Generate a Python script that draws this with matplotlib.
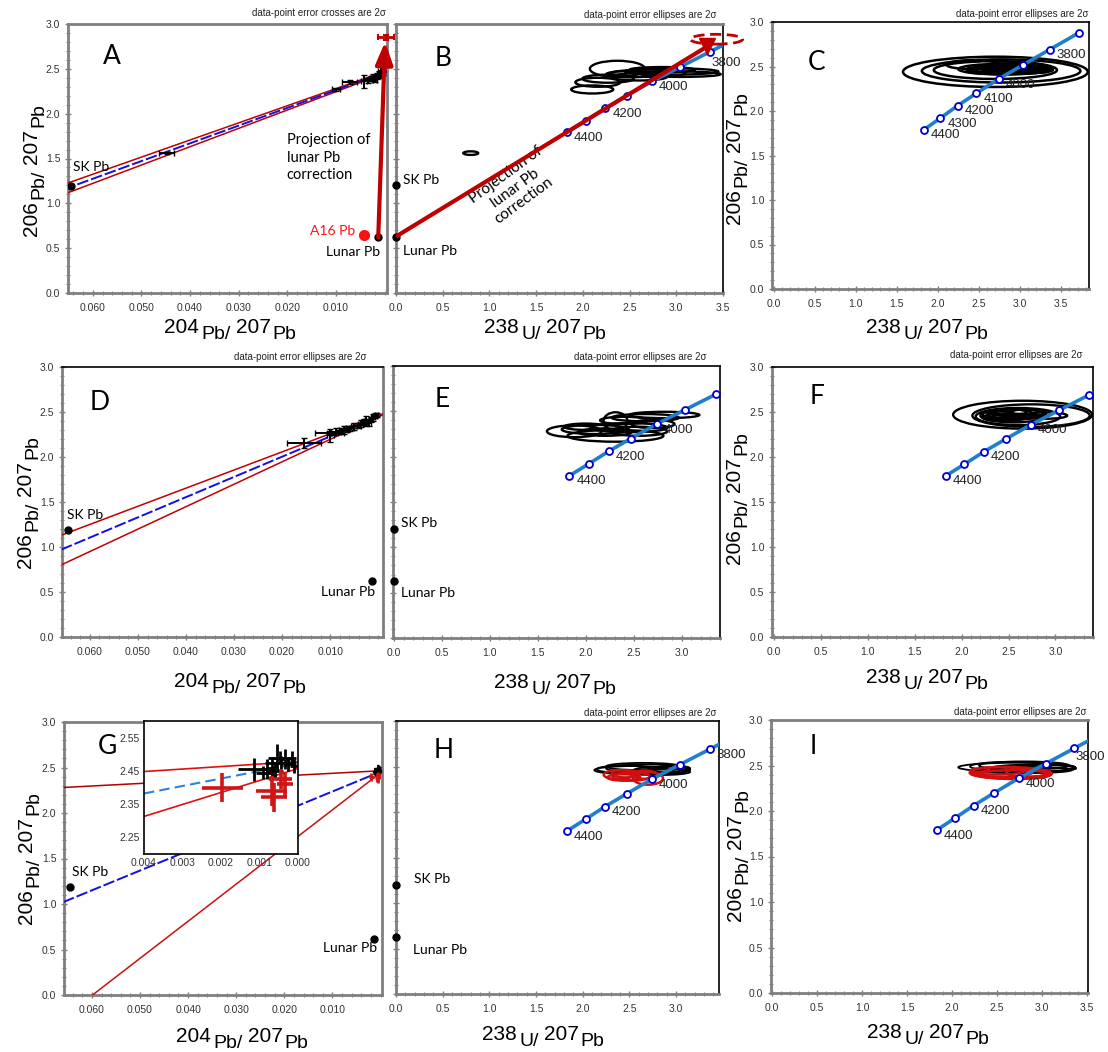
import numpy as np
import matplotlib
matplotlib.use("Agg")
import matplotlib.pyplot as plt
from matplotlib.patches import Ellipse
from matplotlib.ticker import MultipleLocator, FormatStrFormatter

W, H = 1108, 1052
plt.rcParams['font.family'] = ['Liberation Sans', 'DejaVu Sans']
NARROW = ['Liberation Sans', 'DejaVu Sans']
CAL = ['Lato', 'DejaVu Sans']
GRAY = '#7f7f7f'
RED = '#c00000'
BLUE = '#1010e0'

# ---------------- data ----------------
# concordia (Ma) in 238U/207Pb - 206Pb/207Pb space
conc_age = [4400, 4300, 4200, 4100, 4000, 3900, 3800, 3700]
conc_x = [1.83, 2.03, 2.24, 2.47, 2.74, 3.04, 3.36, 3.72]
conc_y = [1.79, 1.92, 2.06, 2.20, 2.36, 2.52, 2.69, 2.88]

# common Pb compositions
sk_204, sk_206 = 0.0645, 1.19
lunar_204, lunar_206 = 0.0013, 0.62
a16_204, a16_206 = 0.0042, 0.65

# panel A: error crosses (204Pb/207Pb, 206Pb/207Pb)
a_x = [0.0448, 0.0100, 0.0072, 0.0042, 0.0034, 0.0028, 0.0023, 0.0019, 0.0015, 0.0011, 0.0008, 0.0005, 0.0003]
a_y = [1.56, 2.27, 2.35, 2.36, 2.37, 2.39, 2.40, 2.38, 2.42, 2.44, 2.48, 2.45, 2.47]
a_xerr = [0.0016, 0.0008, 0.0015, 0.0006, 0.0008, 0.0005, 0.0006, 0.0004, 0.0005, 0.0004, 0.0005, 0.0003, 0.0003]
a_yerr = [0.015, 0.02, 0.02, 0.07, 0.03, 0.03, 0.04, 0.03, 0.03, 0.04, 0.07, 0.03, 0.04]
a_proj = (-0.0003, 2.85, 0.0017, 0.03)
reg_a_x = [0.066, -0.0005]
reg_a_hi = [1.21, 2.48]
reg_a_mid = [1.155, 2.47]
reg_a_lo = [1.10, 2.46]

# panel D
d_x = [0.0154, 0.0102, 0.0100, 0.0088, 0.0080, 0.0072, 0.0065, 0.0058, 0.0050, 0.0043, 0.0036, 0.0030,
       0.0025, 0.0020, 0.0015, 0.0010, 0.0006, 0.0003]
d_y = [2.16, 2.27, 2.24, 2.28, 2.29, 2.30, 2.31, 2.32, 2.34, 2.35, 2.37, 2.39, 2.40, 2.38, 2.42, 2.44, 2.46, 2.47]
d_xerr = [0.0036, 0.0030, 0.0007, 0.0010, 0.0008, 0.0009, 0.0007, 0.0008, 0.0006, 0.0007, 0.0005, 0.0006,
          0.0004, 0.0005, 0.0004, 0.0004, 0.0003, 0.0003]
d_yerr = [0.055, 0.02, 0.07, 0.04, 0.03, 0.04, 0.03, 0.03, 0.04, 0.03, 0.04, 0.03, 0.06, 0.03, 0.03, 0.04, 0.03, 0.02]
reg_d_x = [0.066, -0.001]
reg_d_hi = [1.13, 2.48]
reg_d_mid = [0.97, 2.475]
reg_d_lo = [0.80, 2.47]

# panel G (main + inset)
g_bx = [0.00115, 0.00055, 0.00034, 0.00016, 0.00068, 0.00080, 0.00045, 0.00047, 0.00060, 0.00025, 0.00090, 0.00010]
g_by = [2.455, 2.49, 2.485, 2.49, 2.46, 2.455, 2.475, 2.49, 2.45, 2.47, 2.445, 2.465]
g_bxerr = [0.0004, 0.00015, 0.00012, 0.0001, 0.00015, 0.00015, 0.0004, 0.0003, 0.0002, 0.00015, 0.0002, 0.0001]
g_byerr = [0.035, 0.04, 0.03, 0.02, 0.03, 0.03, 0.02, 0.02, 0.025, 0.02, 0.02, 0.02]
g_rx = [0.00197, 0.00045, 0.00068, 0.00062, 0.00034]
g_ry = [2.40, 2.425, 2.39, 2.37, 2.41]
g_rxerr = [0.00053, 0.0003, 0.0004, 0.00034, 0.0002]
g_ryerr = [0.045, 0.03, 0.045, 0.045, 0.035]
reg_g_x = [0.066, -0.0003]
reg_g_hi = [2.28, 2.465]
reg_g_mid = [1.02, 2.46]
reg_g_lo = [-0.25, 2.455]
ins_x = [0.004, 0.0]
ins_hi = [2.448, 2.478]
ins_mid = [2.382, 2.472]
ins_lo = [2.313, 2.457]

# error ellipses (x, y, 2sigma width, 2sigma height)
ell_b = [(2.37, 2.50, 0.59, 0.18), (2.10, 2.27, 0.45, 0.09), (2.16, 2.35, 0.48, 0.10), (2.27, 2.39, 0.55, 0.09),
         (2.95, 2.47, 1.00, 0.07), (3.05, 2.44, 0.85, 0.06), (2.70, 2.45, 0.80, 0.08), (2.60, 2.41, 0.60, 0.08),
         (2.85, 2.49, 0.70, 0.06), (2.50, 2.44, 0.50, 0.07), (0.80, 1.56, 0.16, 0.04)]
b_proj = (3.43, 2.83, 0.56, 0.11)
ell_c = [(2.70, 2.44, 2.25, 0.34), (2.77, 2.45, 1.93, 0.26), (2.70, 2.46, 1.50, 0.20), (2.43, 2.52, 0.65, 0.10),
         (2.80, 2.47, 1.10, 0.12), (2.90, 2.46, 1.00, 0.08), (2.95, 2.48, 0.90, 0.06), (2.75, 2.45, 0.80, 0.07),
         (3.00, 2.46, 0.75, 0.05), (2.85, 2.49, 0.70, 0.09), (2.65, 2.47, 0.60, 0.06), (3.05, 2.47, 0.65, 0.04),
         (2.90, 2.44, 0.55, 0.05), (3.10, 2.45, 0.50, 0.05)]
ell_e = [(1.88, 2.28, 0.57, 0.13), (2.31, 2.23, 1.00, 0.13), (2.31, 2.39, 0.25, 0.20), (2.82, 2.46, 0.73, 0.07),
         (2.62, 2.43, 0.70, 0.08), (2.10, 2.30, 0.70, 0.10), (2.45, 2.32, 0.80, 0.10), (2.20, 2.27, 0.55, 0.08),
         (2.55, 2.28, 0.60, 0.10), (2.70, 2.36, 0.45, 0.09), (2.40, 2.40, 0.50, 0.08), (2.00, 2.33, 0.45, 0.07)]
ell_f = [(2.65, 2.47, 1.48, 0.31), (2.74, 2.46, 1.25, 0.25), (2.60, 2.45, 0.90, 0.19), (2.55, 2.46, 0.70, 0.15),
         (2.50, 2.47, 0.55, 0.12), (2.60, 2.49, 0.60, 0.08), (2.45, 2.44, 0.45, 0.08), (2.70, 2.48, 0.40, 0.10),
         (2.52, 2.50, 0.35, 0.06), (2.58, 2.45, 0.50, 0.06), (2.42, 2.47, 0.30, 0.07), (2.90, 2.46, 0.45, 0.07)]
ell_h = [(2.55, 2.46, 0.85, 0.09), (2.70, 2.48, 0.90, 0.09), (2.85, 2.46, 0.60, 0.08), (2.95, 2.47, 0.40, 0.08),
         (2.65, 2.50, 0.80, 0.08), (2.45, 2.47, 0.60, 0.08), (2.80, 2.44, 0.70, 0.07)]
ell_h_red = [(2.38, 2.41, 0.31, 0.10), (2.46, 2.42, 0.30, 0.08), (2.52, 2.39, 0.40, 0.09), (2.70, 2.37, 0.32, 0.14),
             (2.66, 2.41, 0.28, 0.09), (2.44, 2.38, 0.35, 0.07)]
ell_i = [(2.72, 2.48, 1.30, 0.10), (2.80, 2.50, 1.00, 0.09), (2.90, 2.47, 0.95, 0.08), (2.65, 2.49, 0.90, 0.10),
         (3.00, 2.47, 0.75, 0.07), (2.78, 2.45, 1.10, 0.07)]
ell_i_red = [(2.62, 2.42, 0.85, 0.13), (2.55, 2.43, 0.70, 0.11), (2.70, 2.40, 0.80, 0.10), (2.50, 2.44, 0.60, 0.08),
             (2.66, 2.41, 0.90, 0.07), (2.85, 2.42, 0.50, 0.09)]

PB_LABEL = [('204', False), ('Pb/', True), ('207', False), ('Pb', True)]
U_LABEL = [('238', False), ('U/', True), ('207', False), ('Pb', True)]
Y_LABEL = [('206', False), ('Pb/', True), ('207', False), ('Pb', True)]

# ---------------- helpers ----------------
fig = plt.figure(figsize=(W / 100, H / 100), dpi=100)
fig.patch.set_facecolor('white')
rend = fig.canvas.get_renderer()


def new_ax(l, t, r, b):
    return fig.add_axes([l / W, 1 - b / H, (r - l) / W, (b - t) / H])


def ftext(x, y, s, **kw):
    return fig.text(x / W, 1 - y / H, s, **kw)


def iso_label(x, y, parts, rot=0):
    # isoplot style: mass numbers big, element names dropped below the baseline
    widths = []
    for s, low in parts:
        t = fig.text(0, 0, s, fontsize=14 if low else 15)
        widths.append(t.get_window_extent(rend).width)
        t.remove()
    gaps = [3, 5, 2, 0]
    total = sum(widths) + sum(gaps[:-1])
    pos = 0
    for (s, low), w, g in zip(parts, widths, gaps):
        drop = 6 if low else 0
        size = 14 if low else 15
        if rot == 0:
            ftext(x - total / 2 + pos, y + drop, s, fontsize=size, ha='left', va='baseline')
        else:
            ftext(x + drop, y + total / 2 - pos, s, fontsize=size, rotation=90,
                  rotation_mode='anchor', ha='left', va='baseline')
        pos += w + g


def setup(ax, xlim, xticks, xminor, xfmt, ylabels=True, gray_sides=('left', 'bottom')):
    ax.set_yticks(np.arange(0, 3.01, 0.5))
    ax.yaxis.set_minor_locator(MultipleLocator(0.1))
    ax.set_xticks(xticks)
    ax.xaxis.set_minor_locator(MultipleLocator(xminor))
    ax.xaxis.set_major_formatter(FormatStrFormatter(xfmt))
    ax.yaxis.set_major_formatter(FormatStrFormatter('%.1f'))
    ax.set_xlim(*xlim)
    ax.set_ylim(0, 3.0)
    ax.tick_params(which='both', direction='inout', color=GRAY, labelsize=7.5,
                   labelcolor='#333333', top=False, right=False)
    ax.tick_params(which='major', length=4, width=1)
    ax.tick_params(which='minor', length=3, width=0.8)
    ax.tick_params(axis='x', pad=5)
    if not ylabels:
        ax.tick_params(axis='y', labelleft=False)
    for side, sp in ax.spines.items():
        if side in gray_sides:
            sp.set_color(GRAY)
            sp.set_linewidth(2)
        else:
            sp.set_color('black')
            sp.set_linewidth(1.2)


def concordia(ax, labels, offsets=None):
    offsets = offsets or {}
    ax.plot(conc_x, conc_y, color='#1f7fcc', lw=2.6, zorder=3)
    ax.plot(conc_x, conc_y, 'o', ms=5, mfc='white', mec='#0000cc', mew=1.3, zorder=4)
    for age, x, y in zip(conc_age, conc_x, conc_y):
        if age in labels:
            ax.annotate(str(age), (x, y), xytext=offsets.get(age, (5, -4)), textcoords='offset points',
                        fontsize=9.5, family=NARROW, color='#222222', ha='left', va='center', zorder=5)


def ellipses(ax, items, color='black', lw=1.7, **kw):
    for x, y, w, h in items:
        ax.add_patch(Ellipse((x, y), w, h, fill=False, edgecolor=color, lw=lw, zorder=2, **kw))


def crosses(ax, x, y, xe, ye, color='black', lw=1.4, cap=2):
    ax.errorbar(x, y, xerr=xe, yerr=ye, fmt='none', ecolor=color, elinewidth=lw, capsize=cap,
                capthick=1, zorder=4)


def common_pb_204(ax, sk_lab, lunar_lab):
    ax.plot([sk_204, lunar_204], [sk_206, lunar_206], 'o', color='black', ms=5, zorder=5)
    ax.text(sk_lab[0], sk_lab[1], 'SK Pb', family=CAL, fontsize=10, ha='left', va='center')
    ax.text(lunar_lab[0], lunar_lab[1], 'Lunar Pb', family=CAL, fontsize=10, ha='right', va='center')


def common_pb_u(ax, sk_lab, lunar_lab):
    ax.plot([0, 0], [sk_206 + 0.01, lunar_206 + 0.01], 'o', color='black', ms=5, zorder=5, clip_on=False)
    ax.text(sk_lab[0], sk_lab[1], 'SK Pb', family=CAL, fontsize=10, ha='left', va='center')
    ax.text(lunar_lab[0], lunar_lab[1], 'Lunar Pb', family=CAL, fontsize=10, ha='left', va='center')


def regression(ax, xs, hi, mid, lo, hi_color=RED, lo_color=RED):
    ax.plot(xs, hi, color=hi_color, lw=1.1, zorder=3)
    ax.plot(xs, lo, color=lo_color, lw=1.1, zorder=3)
    ax.plot(xs, mid, color=BLUE, lw=1.4, ls=(0, (6, 1.5)), zorder=3)


PB_TICKS = [0.06, 0.05, 0.04, 0.03, 0.02, 0.01]


def u_ticks(hi):
    return [t for t in np.arange(0, 3.51, 0.5) if t <= hi + 1e-9]


def title(x, y, s):
    ftext(x, y, s, fontsize=7, ha='right', va='center', color='#222222')


def letter(x, y, s):
    ftext(x, y, s, fontsize=19, family=CAL, ha='center', va='center')


# ---------------- row 1 ----------------
ax = new_ax(68, 24, 387, 293)
setup(ax, (0.0651, -0.0005), PB_TICKS, 0.002, '%.3f', gray_sides=('left', 'bottom', 'top', 'right'))
regression(ax, reg_a_x, reg_a_hi, reg_a_mid, reg_a_lo)
crosses(ax, a_x, a_y, a_xerr, a_yerr)
common_pb_204(ax, (0.0641, 1.41), (0.0010, 0.46))
ax.plot([a16_204], [a16_206], 'o', color='#ff1010', ms=7, zorder=5)
ax.text(0.0061, 0.69, 'A16 Pb', family=CAL, fontsize=10, color='#ff1010', ha='right', va='center')
ax.annotate('', xy=(-0.0001, 2.80), xytext=(lunar_204, lunar_206),
            arrowprops=dict(arrowstyle='-|>,head_length=0.9,head_width=0.35', color=RED, lw=3,
                            mutation_scale=15, shrinkA=0, shrinkB=0), zorder=6, annotation_clip=False)
ax.errorbar([a_proj[0]], [a_proj[1]], xerr=[a_proj[2]], yerr=[a_proj[3]], fmt='none', ecolor=RED,
            elinewidth=2, capsize=2.5, capthick=1.5, zorder=6, clip_on=False)
ax.text(0.0201, 1.78, 'Projection of\nlunar Pb\ncorrection', family=CAL, fontsize=10.5,
        ha='left', va='top', linespacing=1.3)
title(386, 13, 'data-point error crosses are 2σ')
letter(112, 57, 'A')
iso_label(230, 333, PB_LABEL)
iso_label(37, 170, Y_LABEL, rot=90)

ax = new_ax(396, 24, 723, 293)
setup(ax, (0, 3.5), u_ticks(3.5), 0.1, '%.1f', ylabels=False, gray_sides=('left', 'bottom', 'top'))
ellipses(ax, ell_b)
concordia(ax, [4400, 4200, 4000, 3800], {3800: (1, -8)})
ax.plot([0, 3.30], [lunar_206 + 0.01, 2.73], color=RED, lw=3, zorder=6, solid_capstyle='butt')
ax.plot([3.33], [2.76], 'v', color=RED, ms=12, zorder=7, clip_on=False)
ax.add_patch(Ellipse(b_proj[:2], b_proj[2], b_proj[3], fill=False, edgecolor=RED, lw=2,
                     ls=(0, (4, 2)), zorder=6, clip_on=False))
common_pb_u(ax, (0.07, 1.26), (0.07, 0.47))
ax.text(1.27, 1.17, 'Projection of\nlunar Pb\ncorrection', family=CAL, fontsize=11,
        ha='center', va='center', rotation=36, linespacing=1.15)
title(717, 15, 'data-point error ellipses are 2σ')
letter(443, 58, 'B')
iso_label(545, 333, U_LABEL)

ax = new_ax(772, 22, 1089, 289)
setup(ax, (-0.02, 3.84), u_ticks(3.84), 0.1, '%.1f')
ellipses(ax, ell_c, lw=1.8)
concordia(ax, [4400, 4300, 4200, 4100, 4000, 3800])
title(1088, 14, 'data-point error ellipses are 2σ')
letter(817, 62, 'C')
iso_label(927, 333, U_LABEL)
iso_label(740, 158, Y_LABEL, rot=90)

# ---------------- row 2 ----------------
ax = new_ax(62, 367, 383, 637)
setup(ax, (0.0658, -0.001), PB_TICKS, 0.002, '%.3f', gray_sides=('left', 'bottom', 'right'))
regression(ax, reg_d_x, reg_d_hi, reg_d_mid, reg_d_lo)
crosses(ax, d_x, d_y, d_xerr, d_yerr)
common_pb_204(ax, (0.0648, 1.36), (0.0006, 0.50))
title(367, 357, 'data-point error ellipses are 2σ')
letter(100, 402, 'D')
iso_label(240, 687, PB_LABEL)
iso_label(31, 502, Y_LABEL, rot=90)

ax = new_ax(393, 366, 720, 638)
setup(ax, (-0.01, 3.40), u_ticks(3.40), 0.1, '%.1f', ylabels=False)
ellipses(ax, ell_e)
concordia(ax, [4400, 4200, 4000])
common_pb_u(ax, (0.07, 1.27), (0.07, 0.50))
title(707, 357, 'data-point error ellipses are 2σ')
letter(442, 400, 'E')
iso_label(555, 688, U_LABEL)

ax = new_ax(772, 367, 1093, 637)
setup(ax, (-0.02, 3.40), u_ticks(3.40), 0.1, '%.1f')
ellipses(ax, ell_f)
concordia(ax, [4400, 4200, 4000])
title(1082, 355, 'data-point error ellipses are 2σ')
letter(817, 397, 'F')
iso_label(927, 683, U_LABEL)
iso_label(740, 498, Y_LABEL, rot=90)

# ---------------- row 3 ----------------
ax = new_ax(64, 722, 382, 995)
setup(ax, (0.0658, -0.0003), PB_TICKS, 0.002, '%.3f', gray_sides=('left', 'bottom', 'top', 'right'))
regression(ax, reg_g_x, reg_g_hi, reg_g_mid, reg_g_lo, hi_color='#b00000', lo_color='#c81010')
crosses(ax, g_bx, g_by, g_bxerr, g_byerr, cap=1)
crosses(ax, g_rx, g_ry, g_rxerr, g_ryerr, color='#d01515', lw=2, cap=0)
common_pb_204(ax, (0.0642, 1.35), (0.0007, 0.52))
letter(107, 747, 'G')
iso_label(242, 1042, PB_LABEL)
iso_label(32, 858, Y_LABEL, rot=90)

ins = new_ax(144, 721, 298, 854)
ins.set_zorder(10)
ins.set_facecolor('white')
ins.plot(ins_x, ins_hi, color='#e01010', lw=1.2)
ins.plot(ins_x, ins_lo, color='#e01010', lw=1.2)
ins.plot(ins_x, ins_mid, color='#2a85d8', lw=1.5, ls=(0, (5, 2.5)))
crosses(ins, g_bx, g_by, g_bxerr, g_byerr, lw=2, cap=0)
crosses(ins, g_rx, g_ry, g_rxerr, g_ryerr, color='#d01515', lw=2.6, cap=0)
ins.set_xticks([0.004, 0.003, 0.002, 0.001, 0.0])
ins.set_yticks([2.25, 2.35, 2.45, 2.55])
ins.xaxis.set_major_formatter(FormatStrFormatter('%.3f'))
ins.yaxis.set_major_formatter(FormatStrFormatter('%.2f'))
ins.set_xlim(0.004, 0.0)
ins.set_ylim(2.20, 2.60)
ins.tick_params(direction='in', length=0, labelsize=7.5, labelcolor='#333333', pad=3)
for sp in ins.spines.values():
    sp.set_color('black')
    sp.set_linewidth(1.2)

ax = new_ax(396, 721, 719, 994)
setup(ax, (0, 3.46), u_ticks(3.46), 0.1, '%.1f', ylabels=False)
ellipses(ax, ell_h, lw=1.3)
ellipses(ax, ell_h_red, color='#d01010', lw=1.8)
concordia(ax, [4400, 4200, 4000, 3800])
common_pb_u(ax, (0.19, 1.26), (0.18, 0.48))
title(717, 713, 'data-point error ellipses are 2σ')
letter(444, 751, 'H')
iso_label(543, 1040, U_LABEL)

ax = new_ax(771, 720, 1088, 993)
setup(ax, (-0.01, 3.51), u_ticks(3.51), 0.1, '%.1f', gray_sides=('left', 'bottom', 'top'))
ellipses(ax, ell_i, lw=1.3)
ellipses(ax, ell_i_red, color='#d01010', lw=1.6)
concordia(ax, [4400, 4200, 4000, 3800], {3800: (1, -6)})
title(1087, 712, 'data-point error ellipses are 2σ')
letter(813, 747, 'I')
iso_label(928, 1038, U_LABEL)
iso_label(741, 855, Y_LABEL, rot=90)

fig.savefig('out.png', dpi=100, facecolor='white')
